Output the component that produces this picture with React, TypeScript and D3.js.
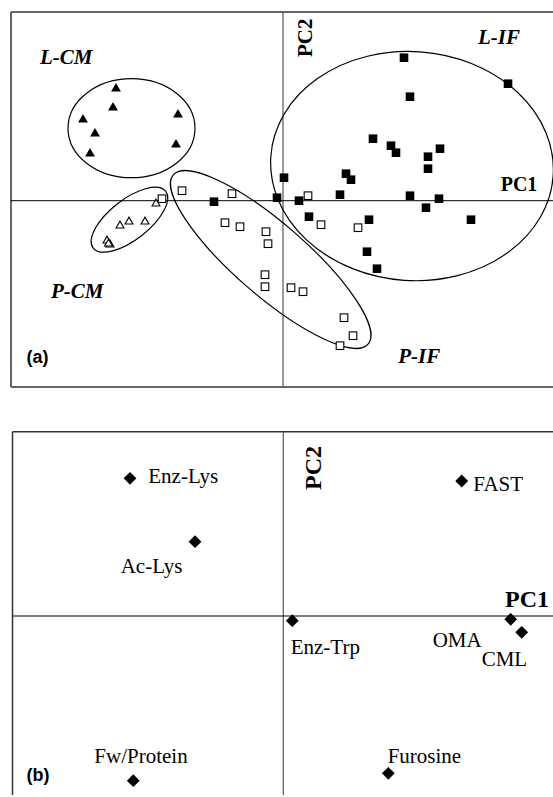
import React from 'react';
import * as d3 from 'd3';

const W = 553;
const H = 797;

// ---------- Panel (a): PCA scores ----------
const lcmScores: [number, number][] = [
  [-1.67, 1.12], [-1.70, 0.93], [-2.00, 0.81], [-1.88, 0.67],
  [-1.93, 0.47], [-1.05, 0.86], [-1.07, 0.56],
];
const pcmScores: [number, number][] = [
  [-1.27, -0.03], [-1.63, -0.25], [-1.54, -0.21], [-1.38, -0.21],
  [-1.76, -0.40], [-1.73, -0.44], [-1.745, -0.43],
];
const pifScores: [number, number][] = [
  [-1.21, 0.02], [-1.01, 0.10], [-0.51, 0.07], [-0.58, -0.22],
  [-0.43, -0.26], [-0.17, -0.31], [-0.15, -0.43], [-0.18, -0.74],
  [-0.18, -0.86], [0.25, 0.05], [0.38, -0.24], [0.75, -0.27],
  [0.08, -0.87], [0.20, -0.91], [0.61, -1.17], [0.70, -1.35], [0.57, -1.45],
];
const lifScores: [number, number][] = [
  [1.21, 1.43], [1.27, 1.04], [2.25, 1.17], [0.90, 0.62], [1.08, 0.55],
  [1.13, 0.48], [1.45, 0.44], [1.57, 0.52], [1.45, 0.32], [0.01, 0.23],
  [0.63, 0.27], [0.68, 0.21], [-0.06, 0.03], [0.16, 0.00], [0.57, 0.06],
  [1.27, 0.05], [1.56, 0.02], [1.43, -0.07], [0.26, -0.16], [0.86, -0.19],
  [0.84, -0.51], [0.94, -0.68], [-0.69, -0.01], [1.88, -0.19],
];

// group ellipses: centre, semi-axes (PC units), tilt in degrees
const ellipseNames = ['L-CM', 'P-CM', 'P-IF', 'L-IF'];
const ellipseCx = [-1.515, -1.535, -0.123, 1.29];
const ellipseCy = [0.725, -0.19, -0.588, 0.346];
const ellipseA = [0.635, 0.46, 1.29, 1.415];
const ellipseB = [0.495, 0.20, 0.36, 1.145];
const ellipseAngle = [0, -38, 41, 4];

// group labels (anchored in PC units)
const groupLabelText = ['L-CM', 'L-IF', 'P-CM', 'P-IF'];
const groupLabelX = [-2.43, 1.95, -2.32, 1.153];
const groupLabelY = [1.367, 1.564, -0.976, -1.62];

// ---------- Panel (b): loadings ----------
const loadingNames = ['Enz-Lys', 'Ac-Lys', 'FAST', 'Enz-Trp', 'OMA', 'CML', 'Furosine', 'Fw/Protein'];
const loadingPC1 = [-1.533, -0.883, 1.784, 0.09, 2.274, 2.384, 1.05, -1.50];
const loadingPC2 = [1.377, 0.743, 1.35, -0.047, -0.033, -0.163, -1.573, -1.647];

// label offsets in px relative to the marker
const labelDx = [18.3, -74.3, 11.6, -1.6, -78, -40, -0.6, -39];
const labelDy = [4.4, 31.6, 9.7, 33.3, 27.4, 33.7, -10, -17.4];

const SERIF = '"Liberation Serif", "Times New Roman", serif';
const SANS = '"Liberation Sans", Arial, sans-serif';

export default function App() {
  // panel (a) frame
  const aL = 11, aT = 12, aB = 387, aR = W;
  const xA = d3.scaleLinear().domain([(aL - 283) / 100, (aR - 283) / 100]).range([aL, aR]);
  const yA = d3.scaleLinear().domain([(200.7 - aB) / 100, (200.7 - aT) / 100]).range([aB, aT]);

  // panel (b) frame
  const bL = 12.5, bT = 431.7, bB = 795, bR = W;
  const xB = d3.scaleLinear().domain([(bL - 283.3) / 100, (bR - 283.3) / 100]).range([bL, bR]);
  const yB = d3.scaleLinear().domain([(616 - bB) / 100, (616 - bT) / 100]).range([bB, bT]);

  const triFilled = d3.symbol().type(d3.symbolTriangle).size(42)()!;
  const triOpen = d3.symbol().type(d3.symbolTriangle).size(27)()!;
  const diamond = d3.symbol().type(d3.symbolSquare).size(82)()!;

  const sq = 8.6;

  return (
    <svg width={W} height={H} style={{ position: 'absolute', left: 0, top: 0, background: '#fff' }}>
      <rect x={0} y={0} width={W} height={H} fill="#fff" />
      {/* ===== Panel (a) ===== */}
      <g>
        <line x1={aL} x2={aR} y1={aT} y2={aT} stroke="#333" strokeWidth={1.5} />
        <line x1={aL} x2={aR} y1={aB} y2={aB} stroke="#333" strokeWidth={1.5} />
        <line x1={aL} x2={aL} y1={aT} y2={aB} stroke="#333" strokeWidth={1.5} />
        <line x1={xA(0)} x2={xA(0)} y1={aT} y2={aB} stroke="#555" strokeWidth={1.2} />
        <line x1={aL} x2={aR} y1={yA(0)} y2={yA(0)} stroke="#000" strokeWidth={1} />

        {ellipseNames.map((n, i) => {
          const cx = xA(ellipseCx[i]);
          const cy = yA(ellipseCy[i]);
          const rx = xA(ellipseA[i]) - xA(0);
          const ry = yA(0) - yA(ellipseB[i]);
          return (
            <ellipse key={n} cx={cx} cy={cy} rx={rx} ry={ry}
              transform={`rotate(${ellipseAngle[i]},${cx},${cy})`}
              fill="none" stroke="#000" strokeWidth={1.2} />
          );
        })}

        {lcmScores.map(([x, y], i) => (
          <path key={'lcm' + i} d={triFilled} transform={`translate(${xA(x)},${yA(y)})`} fill="#000" />
        ))}
        {pcmScores.map(([x, y], i) => (
          <path key={'pcm' + i} d={triOpen} transform={`translate(${xA(x)},${yA(y)})`} fill="#fff" stroke="#000" strokeWidth={1.1} />
        ))}
        {pifScores.map(([x, y], i) => (
          <rect key={'pif' + i} x={xA(x) - sq / 2 + 0.5} y={yA(y) - sq / 2 + 0.5} width={sq - 1} height={sq - 1}
            fill="#fff" stroke="#000" strokeWidth={1.1} />
        ))}
        {lifScores.map(([x, y], i) => (
          <rect key={'lif' + i} x={xA(x) - sq / 2} y={yA(y) - sq / 2} width={sq} height={sq} fill="#000" />
        ))}

        {groupLabelText.map((t, i) => (
          <text key={t} x={xA(groupLabelX[i])} y={yA(groupLabelY[i])} fontFamily={SERIF}
            fontWeight="bold" fontStyle="italic" fontSize={21} fill="#000">{t}</text>
        ))}
        <text x={xA(2.177)} y={yA(0.10)} fontFamily={SERIF} fontWeight="bold" fontSize={20} fill="#000">PC1</text>
        <text transform={`translate(${xA(0.29)},${yA(1.437)}) rotate(-90)`} fontFamily={SERIF}
          fontWeight="bold" fontSize={21} fill="#000">PC2</text>
        <text x={26.5} y={363} fontFamily={SANS} fontWeight="bold" fontSize={18} fill="#000">(a)</text>
      </g>

      {/* ===== Panel (b) ===== */}
      <g>
        <line x1={bL} x2={bR} y1={bT} y2={bT} stroke="#333" strokeWidth={1.5} />
        <line x1={bL} x2={bL} y1={bT} y2={bB} stroke="#333" strokeWidth={1.5} />
        <line x1={xB(0)} x2={xB(0)} y1={bT} y2={bB} stroke="#555" strokeWidth={1.2} />
        <line x1={bL} x2={bR} y1={yB(0)} y2={yB(0)} stroke="#000" strokeWidth={1} />

        {loadingNames.map((n, i) => {
          const px = xB(loadingPC1[i]);
          const py = yB(loadingPC2[i]);
          return (
            <g key={n}>
              <path d={diamond} transform={`translate(${px},${py}) rotate(45)`} fill="#000" />
              <text x={px + labelDx[i]} y={py + labelDy[i]} fontFamily={SERIF} fontSize={21} fill="#000">{n}</text>
            </g>
          );
        })}

        <text x={505} y={607.3} fontFamily={SERIF} fontWeight="bold" fontSize={24} fill="#000">PC1</text>
        <text transform={`translate(${320.7},${490}) rotate(-90)`} fontFamily={SERIF}
          fontWeight="bold" fontSize={24} fill="#000">PC2</text>
        <text x={26.5} y={781} fontFamily={SANS} fontWeight="bold" fontSize={18} fill="#000">(b)</text>
      </g>
    </svg>
  );
}
